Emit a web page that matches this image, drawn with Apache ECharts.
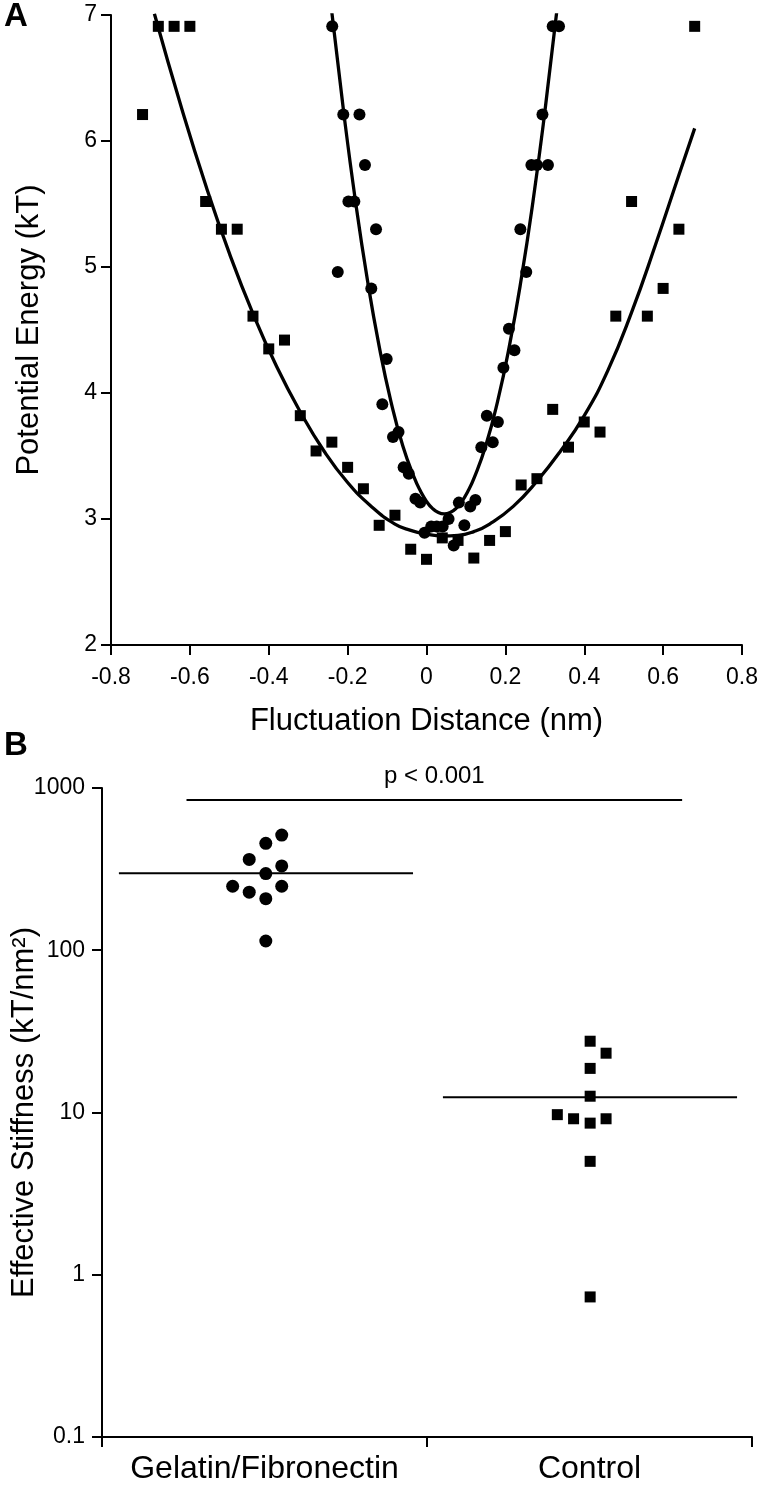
<!DOCTYPE html>
<html><head><meta charset="utf-8">
<script src="https://cdn.jsdelivr.net/npm/echarts@6/dist/echarts.min.js"></script>
<style>html,body{margin:0;padding:0;background:#fff}#c{width:760px;height:1487px}</style>
</head><body><div id="c"></div><script>
// ---------- Panel A data ----------
const sqX = [-0.72,-0.68,-0.64,-0.60,-0.56,-0.52,-0.48,-0.44,-0.40,-0.36,-0.32,-0.28,-0.24,-0.20,-0.16,-0.12,-0.08,-0.04,0.00,0.04,0.08,0.12,0.16,0.20,0.24,0.28,0.32,0.36,0.40,0.44,0.48,0.52,0.56,0.60,0.64,0.68];
const sqY = [6.21,6.91,6.91,6.91,5.52,5.30,5.30,4.61,4.35,4.42,3.82,3.54,3.61,3.41,3.24,2.95,3.03,2.76,2.68,2.85,2.83,2.69,2.83,2.90,3.27,3.32,3.87,3.57,3.77,3.69,4.61,5.52,4.61,4.83,5.30,6.91];
const circX = [-0.239,-0.225,-0.211,-0.198,-0.183,-0.170,-0.156,-0.140,-0.128,-0.112,-0.101,-0.085,-0.071,-0.058,-0.045,-0.028,-0.016,-0.005,0.012,0.026,0.041,0.056,0.069,0.082,0.096,0.111,0.124,0.139,0.153,0.168,0.181,0.195,0.209,0.223,0.238,0.253,0.266,0.280,0.294,0.308,0.320,0.336];
const circY = [6.91,4.96,6.21,5.52,5.52,6.21,5.81,4.83,5.30,3.91,4.27,3.65,3.69,3.41,3.36,3.16,3.13,2.89,2.94,2.94,2.94,3.00,2.79,3.13,2.95,3.10,3.15,3.57,3.82,3.61,3.77,4.20,4.51,4.34,5.30,4.96,5.81,5.81,6.21,5.81,6.91,6.91];
const sqFitX = [-0.69,-0.62,-0.56,-0.50,-0.44,-0.38,-0.32,-0.26,-0.20,-0.14,-0.08,-0.04,0.00,0.04,0.08,0.12,0.16,0.22,0.28,0.34,0.40,0.46,0.52,0.58,0.64,0.68];
const sqFitY = [7.01,6.25,5.65,5.11,4.63,4.21,3.85,3.54,3.29,3.10,2.96,2.91,2.88,2.865,2.87,2.90,2.96,3.10,3.30,3.54,3.82,4.18,4.64,5.17,5.73,6.10];
const circFitX = [-0.24,-0.21,-0.18,-0.15,-0.12,-0.09,-0.06,-0.03,-0.015,0.0,0.015,0.03,0.045,0.06,0.075,0.09,0.105,0.12,0.15,0.18,0.21,0.24,0.27,0.30,0.33];
const circFitY = [7.02,6.23,5.52,4.90,4.37,3.93,3.58,3.32,3.22,3.14,3.084,3.051,3.04,3.051,3.084,3.14,3.22,3.32,3.58,3.93,4.37,4.90,5.52,6.23,7.02];
const aYTicks = [2,3,4,5,6,7];
const aXTicks = [-0.8,-0.6,-0.4,-0.2,0,0.2,0.4,0.6,0.8];

// ---------- Panel B data ----------
const categories = ['Gelatin/Fibronectin','Control'];
const gfX = [0.553,0.504,0.453,0.553,0.504,0.402,0.553,0.453,0.504,0.504];
const gfY = [513,456,363,331,297,248,248,228,208,114];
const ctX = [1.502,1.551,1.502,1.502,1.401,1.451,1.502,1.551,1.502,1.502];
const ctY = [27.5,23.2,18.7,12.6,9.7,9.15,8.6,9.15,5.0,0.73];
const gfMean = 298;
const ctMean = 12.4;
const gfMeanSpan = [0.052,0.957];
const ctMeanSpan = [1.049,1.954];
const pValue = 843;
const pSpan = [0.26,1.785];
const pText = 'p < 0.001';
const bYTicks = [0.1,1,10,100,1000];

const font = "'Liberation Sans', Arial, Helvetica, sans-serif";
const zip = (a,b) => a.map((v,i)=>[v,b[i]]);
const black = '#000';

const chart = echarts.init(document.getElementById('c'), null, {renderer:'canvas'});
const axLine = {show:true, onZero:false, lineStyle:{color:black,width:2}};
const axTick = {show:true, inside:false, length:10, lineStyle:{color:black,width:2}};
const solid = {color:black, opacity:1};

const option = {
  animation:false,
  backgroundColor:'#fff',
  textStyle:{fontFamily:font,color:black},
  grid:[
    {left:111,top:15,right:18,bottom:842,containLabel:false,outerBoundsMode:'none'},
    {left:102,top:788,right:8,bottom:50,containLabel:false,outerBoundsMode:'none'}
  ],
  xAxis:[
    {gridIndex:0,type:'value',min:aXTicks[0],max:aXTicks[aXTicks.length-1],interval:0.2,
     axisLine:axLine, axisTick:axTick, splitLine:{show:false},
     axisLabel:{color:black,fontSize:23,margin:21,fontFamily:font,
       formatter:v=>{const s=Math.round(v*10)/10; return s===0?'0':s.toFixed(1);}},
     name:'Fluctuation Distance (nm)', nameLocation:'middle', nameGap:61, nameMoveOverlap:false,
     nameTextStyle:{fontSize:31,color:black,fontFamily:font}},
    {gridIndex:1,type:'category',data:categories,boundaryGap:true,
     axisLine:axLine, axisTick:{show:true,inside:false,length:10,interval:0,alignWithLabel:false,lineStyle:{color:black,width:2}},
     axisLabel:{color:black,fontSize:32,margin:16,interval:0,fontFamily:font,hideOverlap:false},splitLine:{show:false}},
    {gridIndex:1,type:'value',min:0,max:2,show:false}
  ],
  yAxis:[
    {gridIndex:0,type:'value',min:aYTicks[0],max:aYTicks[aYTicks.length-1],interval:1,
     axisLine:axLine, axisTick:axTick, splitLine:{show:false},
     axisLabel:{color:black,fontSize:23,margin:14,fontFamily:font},
     name:'Potential Energy (kT)', nameLocation:'middle', nameGap:66, nameRotate:90, nameMoveOverlap:false,
     nameTextStyle:{fontSize:31,color:black,fontFamily:font}},
    {gridIndex:1,type:'log',logBase:10,min:bYTicks[0],max:bYTicks[bYTicks.length-1],
     axisLine:axLine, axisTick:axTick, splitLine:{show:false}, minorTick:{show:false},
     axisLabel:{color:black,fontSize:23,margin:17,fontFamily:font,
       formatter:v=>String(+(+v).toPrecision(3))},
     name:'Effective Stiffness (kT/nm²)', nameLocation:'middle', nameGap:62, nameRotate:90, nameMoveOverlap:false,
     nameTextStyle:{fontSize:31,color:black,fontFamily:font}}
  ],
  series:[
    {type:'line',xAxisIndex:0,yAxisIndex:0,data:zip(sqFitX,sqFitY),smooth:0.5,symbol:'none',
     lineStyle:{color:black,width:3.3},z:3},
    {type:'line',xAxisIndex:0,yAxisIndex:0,data:zip(circFitX,circFitY),smooth:0.5,symbol:'none',
     lineStyle:{color:black,width:3.3},z:3},
    {type:'scatter',xAxisIndex:0,yAxisIndex:0,data:zip(sqX,sqY),symbol:'rect',symbolSize:11,
     itemStyle:solid,z:4},
    {type:'scatter',xAxisIndex:0,yAxisIndex:0,data:zip(circX,circY),symbol:'circle',symbolSize:12,
     itemStyle:solid,z:4},
    {type:'scatter',xAxisIndex:2,yAxisIndex:1,data:zip(gfX,gfY),symbol:'circle',symbolSize:13,
     itemStyle:solid,z:4},
    {type:'scatter',xAxisIndex:2,yAxisIndex:1,data:zip(ctX,ctY),symbol:'rect',symbolSize:11,
     itemStyle:solid,z:4},
    {type:'line',xAxisIndex:2,yAxisIndex:1,data:gfMeanSpan.map(x=>[x,gfMean]),symbol:'none',
     lineStyle:{color:black,width:2},z:3},
    {type:'line',xAxisIndex:2,yAxisIndex:1,data:ctMeanSpan.map(x=>[x,ctMean]),symbol:'none',
     lineStyle:{color:black,width:2},z:3},
    {type:'line',xAxisIndex:2,yAxisIndex:1,data:pSpan.map(x=>[x,pValue]),symbol:'none',
     lineStyle:{color:black,width:2},z:3},
    {type:'scatter',xAxisIndex:2,yAxisIndex:1,data:[[(pSpan[0]+pSpan[1])/2,pValue]],symbolSize:1,
     itemStyle:{color:'#fff',opacity:0},
     label:{show:true,position:'top',distance:11,formatter:()=>pText,fontSize:24,color:black,opacity:1,fontFamily:font}}
  ],
  graphic:[
    {type:'text',left:4,top:0,style:{text:'A',font:"bold 33px 'Liberation Sans', Arial, sans-serif",fill:black}},
    {type:'text',left:4,top:729,style:{text:'B',font:"bold 33px 'Liberation Sans', Arial, sans-serif",fill:black}}
  ]
};
chart.setOption(option);
</script></body></html>
